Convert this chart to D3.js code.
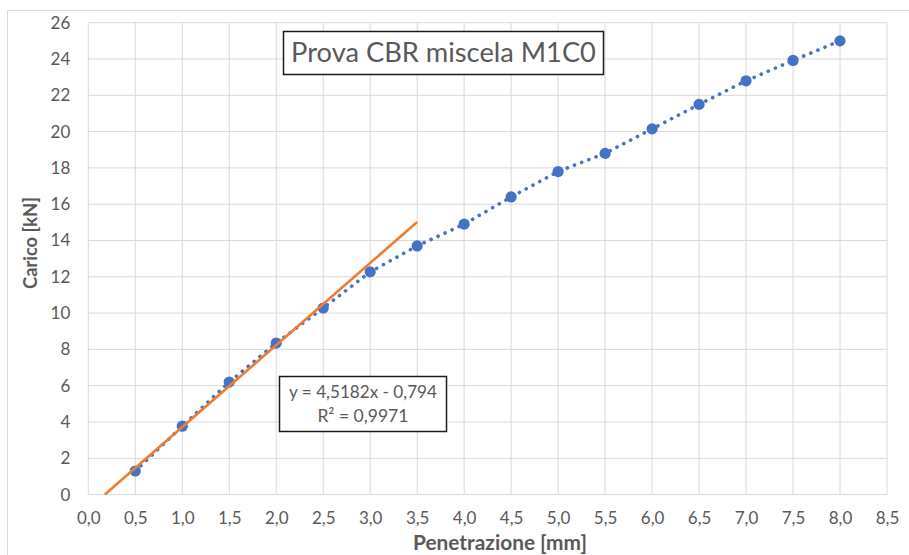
<!DOCTYPE html>
<html>
<head>
<meta charset="utf-8">
<script src="https://cdn.jsdelivr.net/npm/d3@7"></script>
<style>
  html, body { margin: 0; padding: 0; background: #fff; }
  svg { display: block; font-family: Lato, "Open Sans", sans-serif; }
</style>
</head>
<body>
<svg id="chart" width="909" height="555"></svg>
<script>
// Penetration (mm) and load (kN) readings of the CBR test
const penetrazione = [0.5, 1.0, 1.5, 2.0, 2.5, 3.0, 3.5, 4.0, 4.5, 5.0, 5.5, 6.0, 6.5, 7.0, 7.5, 8.0];
const carico = [1.3, 3.77, 6.2, 8.35, 10.28, 12.27, 13.7, 14.9, 16.4, 17.8, 18.8, 20.15, 21.5, 22.8, 23.92, 25.0];

// Linear trendline fitted on the first points
const trendSlope = 4.5182;
const trendIntercept = -0.794;
const trendXEnd = 3.5;

const xTicks = [0, 0.5, 1, 1.5, 2, 2.5, 3, 3.5, 4, 4.5, 5, 5.5, 6, 6.5, 7, 7.5, 8, 8.5];
const yTicks = [0, 2, 4, 6, 8, 10, 12, 14, 16, 18, 20, 22, 24, 26];

const titleText = "Prova CBR miscela M1C0";
const eqLines = ["y = 4,5182x - 0,794", "R² = 0,9971"];
const xTitle = "Penetrazione [mm]";
const yTitle = "Carico [kN]";

const svg = d3.select("#chart");
const M = { left: 88.3, right: 887, top: 22.7, bottom: 494.6 };

const x = d3.scaleLinear().domain([0, 8.5]).range([M.left, M.right]);
const y = d3.scaleLinear().domain([0, 26]).range([M.bottom, M.top]);

const fmt = d => d3.format(".1f")(d).replace(".", ",");

// outer chart frame (partly outside the viewport)
svg.append("rect")
  .attr("x", 7.5).attr("y", 10.5).attr("width", 940).attr("height", 600)
  .attr("fill", "none").attr("stroke", "#d9d9d9").attr("stroke-width", 1);

// gridlines
const grid = svg.append("g");
grid.selectAll("line.v").data(xTicks).join("line")
  .attr("x1", d => x(d)).attr("x2", d => x(d))
  .attr("y1", y(0)).attr("y2", y(26))
  .attr("stroke", "#d9d9d9").attr("stroke-width", 1);
grid.selectAll("line.h").data(yTicks).join("line")
  .attr("y1", d => y(d)).attr("y2", d => y(d))
  .attr("x1", x(0)).attr("x2", x(8.5))
  .attr("stroke", "#d9d9d9").attr("stroke-width", 1);

// axes (labels only, lines come from the grid)
const xAxis = svg.append("g").attr("transform", `translate(0,${y(0)})`)
  .call(d3.axisBottom(x).tickValues(xTicks).tickFormat(fmt).tickSize(0).tickPadding(17));
const yAxis = svg.append("g").attr("transform", `translate(${x(0)},0)`)
  .call(d3.axisLeft(y).tickValues(yTicks).tickFormat(d3.format("d")).tickSize(0).tickPadding(18));
[xAxis, yAxis].forEach(a => {
  a.select(".domain").remove();
  a.selectAll("text").attr("fill", "#595959").style("font-size", "17px")
    .style("font-family", "Lato, 'Open Sans', sans-serif");
});

// data series: dotted line + markers
const line = d3.line().x((d, i) => x(penetrazione[i])).y(d => y(d));
svg.append("path")
  .datum(carico)
  .attr("d", line)
  .attr("fill", "none")
  .attr("stroke", "#4472c4")
  .attr("stroke-width", 3.6)
  .attr("stroke-linecap", "round")
  .attr("stroke-dasharray", "0.1 7.6");

svg.append("g").selectAll("circle").data(carico).join("circle")
  .attr("cx", (d, i) => x(penetrazione[i]))
  .attr("cy", d => y(d))
  .attr("r", 5.6)
  .attr("fill", "#4472c4");

// trendline from its x-intercept to the end value
const trendX0 = -trendIntercept / trendSlope;
const trendPts = [trendX0, trendXEnd].map(v => [v, trendSlope * v + trendIntercept]);
svg.append("path")
  .datum(trendPts)
  .attr("d", d3.line().x(d => x(d[0])).y(d => y(d[1])))
  .attr("fill", "none")
  .attr("stroke", "#ed7d31")
  .attr("stroke-width", 2.6);

// helper: scale font so the text has the wanted width
function fitWidth(sel, w) {
  const cur = sel.node().getComputedTextLength();
  const fs = parseFloat(sel.style("font-size"));
  sel.style("font-size", (fs * w / cur) + "px");
}

// title box
svg.append("rect")
  .attr("x", 283.5).attr("y", 31.5).attr("width", 320).attr("height", 43)
  .attr("fill", "#fff").attr("stroke", "#1a1a1a").attr("stroke-width", 1.5);
const t = svg.append("text")
  .attr("x", 443.5).attr("y", 62)
  .attr("text-anchor", "middle")
  .attr("fill", "#595959")
  .style("font-size", "26px")
  .text(titleText);
fitWidth(t, 305);

// trendline equation box
svg.append("rect")
  .attr("x", 279.5).attr("y", 376.5).attr("width", 167).attr("height", 55)
  .attr("fill", "#fff").attr("stroke", "#1a1a1a").attr("stroke-width", 1.5);
eqLines.forEach((s, i) => {
  const e = svg.append("text")
    .attr("x", 363).attr("y", 398 + i * 24)
    .attr("text-anchor", "middle")
    .attr("fill", "#595959")
    .style("font-size", "16px")
    .text(s);
  fitWidth(e, i === 0 ? 148 : 91);
});

// axis titles
const xt = svg.append("text")
  .attr("x", 500).attr("y", 550)
  .attr("text-anchor", "middle")
  .attr("fill", "#595959")
  .style("font-size", "18px").style("font-weight", "bold")
  .text(xTitle);
fitWidth(xt, 174);

const yt = svg.append("text")
  .attr("transform", "translate(37,243) rotate(-90)")
  .attr("text-anchor", "middle")
  .attr("fill", "#595959")
  .style("font-size", "18px").style("font-weight", "bold")
  .text(yTitle);
fitWidth(yt, 92);
</script>
</body>
</html>
